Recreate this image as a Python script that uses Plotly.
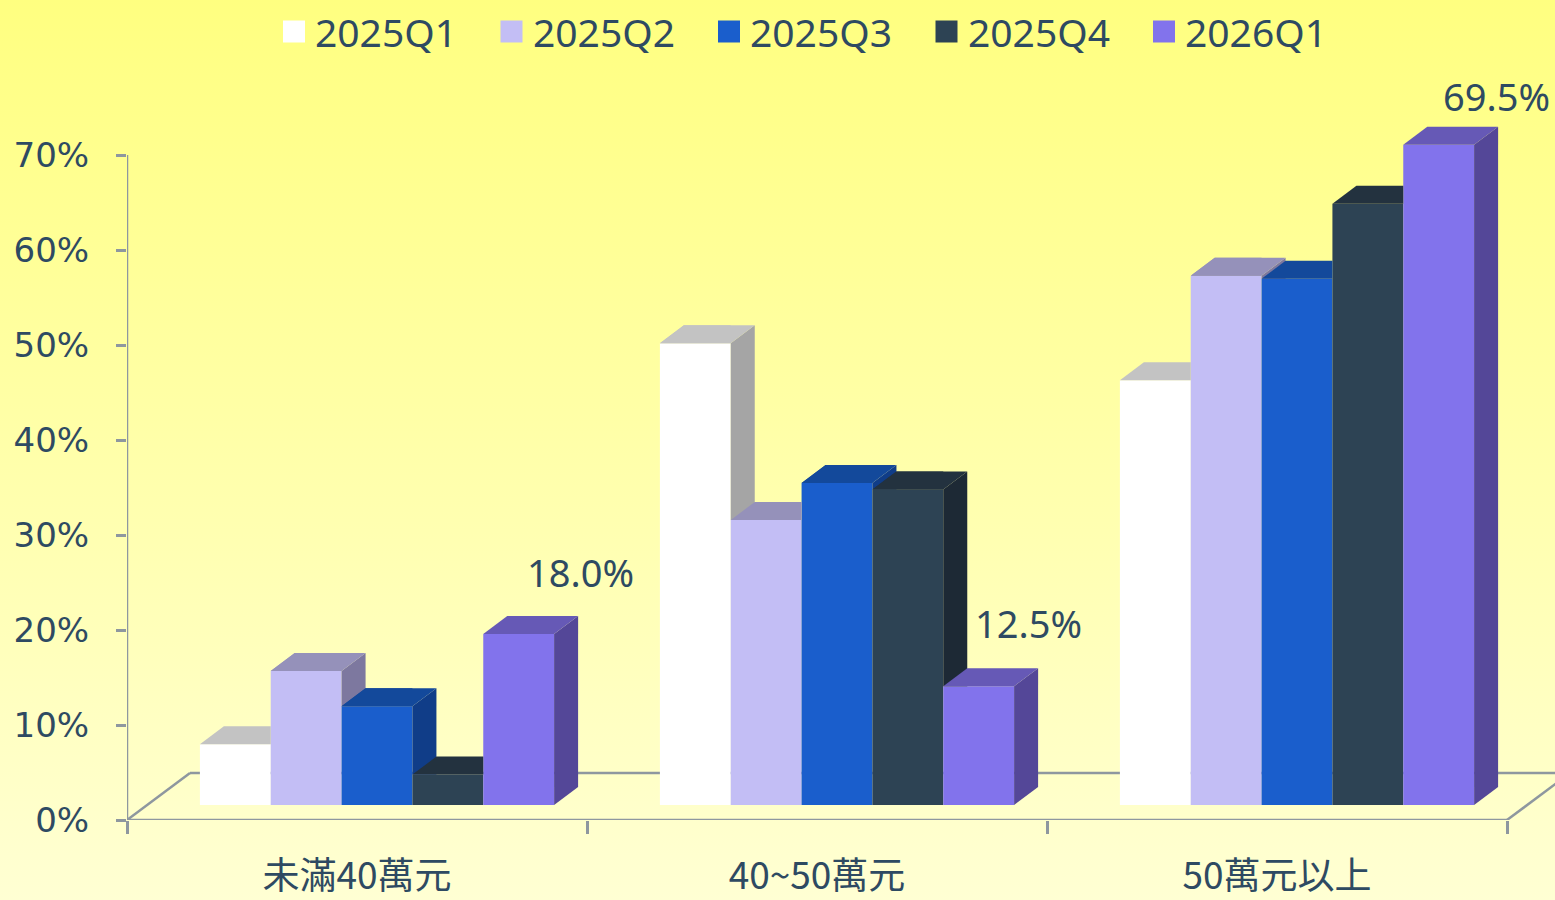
import base64
import plotly.graph_objects as go

# ---- data -------------------------------------------------------------
categories = ["未滿40萬元", "40~50萬元", "50萬元以上"]
series_names = ["2025Q1", "2025Q2", "2025Q3", "2025Q4", "2026Q1"]
q1_2025 = [6.4, 48.6, 44.7]
q2_2025 = [14.1, 30.0, 55.7]
q3_2025 = [10.4, 33.9, 55.4]
q4_2025 = [3.2, 33.2, 63.3]
q1_2026 = [18.0, 12.5, 69.5]
y_tick_values = [0, 10, 20, 30, 40, 50, 60, 70]
y_tick_labels = ["0%", "10%", "20%", "30%", "40%", "50%", "60%", "70%"]

series_values = [q1_2025, q2_2025, q3_2025, q4_2025, q1_2026]
# series whose bars carry a value label
labelled_series = "2026Q1"

# ---- styling ----------------------------------------------------------
# (front, top, side) face colours for each series
face_colors = [
    ("#FFFFFF", "#C3C3C3", "#A5A5A5"),
    ("#C3BEF5", "#9591BA", "#7D789F"),
    ("#1A5ECC", "#13499B", "#103D88"),
    ("#2D4354", "#23323F", "#1D2935"),
    ("#8273EC", "#6659B6", "#544798"),
]
TEXT = "#2E4A62"
AXIS = "#8E979F"

W, H = 1555, 900
ML, MR, MT, MB = 127, 0, 60, 80
PX_PER_CAT = 460.0      # pixels per category slot
PX_PER_PCT = 9.5        # pixels per percentage point
plot_w, plot_h = W - ML - MR, H - MT - MB
x_max = plot_w / PX_PER_CAT
y_max = plot_h / PX_PER_PCT

# oblique projection offsets (pixels) converted to axis units
def dxu(px):
    return px / PX_PER_CAT

def dyu(px):
    return px / PX_PER_PCT

FRONT_DX, FRONT_DY = dxu(20), dyu(15)   # bars' front plane behind the axis plane
BAR_DX, BAR_DY = dxu(24), dyu(18)       # bar depth
FLOOR_DX, FLOOR_DY = dxu(63), dyu(47)   # floor depth

BAR_GAP = 0.23
n_series = len(series_names)
BAR_W = (1 - BAR_GAP) / n_series


def clip(poly, inside, cross):
    """Sutherland-Hodgman clip of a polygon against one half-plane."""
    out = []
    for i in range(len(poly)):
        cur, prev = poly[i], poly[i - 1]
        if inside(cur):
            if not inside(prev):
                out.append(cross(prev, cur))
            out.append(cur)
        elif inside(prev):
            out.append(cross(prev, cur))
    return out


def y_at_least(c):
    def inside(p):
        return p[1] >= c

    def cross(a, b):
        t = (c - a[1]) / (b[1] - a[1])
        return (a[0] + t * (b[0] - a[0]), c)
    return inside, cross


def x_at_most(c):
    def inside(p):
        return p[0] <= c

    def cross(a, b):
        t = (c - a[0]) / (b[0] - a[0])
        return (c, a[1] + t * (b[1] - a[1]))
    return inside, cross


def poly_trace(poly, color):
    xs = [p[0] for p in poly] + [poly[0][0]]
    ys = [p[1] for p in poly] + [poly[0][1]]
    return go.Scatter(x=xs, y=ys, mode="lines", fill="toself", fillcolor=color,
                      line=dict(width=0, color=color), hoverinfo="skip",
                      showlegend=False, xaxis="x2", yaxis="y2")


fig = go.Figure()
centers = [i + 0.5 for i in range(len(categories))]

# front faces
for k, (name, vals) in enumerate(zip(series_names, series_values)):
    fig.add_trace(go.Bar(
        x=centers, y=vals, name=name, width=BAR_W,
        offset=-(1 - BAR_GAP) / 2 + k * BAR_W,
        marker=dict(color=face_colors[k][0], line=dict(width=0)),
        xaxis="x2", yaxis="y2", showlegend=False, hoverinfo="skip",
    ))

# top and side faces, painted left to right; parts hidden by the next bar are cut away
for k, vals in enumerate(series_values):
    for i, c in enumerate(centers):
        v = vals[i]
        left = c - (1 - BAR_GAP) / 2 + k * BAR_W
        right = left + BAR_W
        top = [(left, v), (right, v), (right + BAR_DX, v + BAR_DY), (left + BAR_DX, v + BAR_DY)]
        side = [(right, 0), (right + BAR_DX, BAR_DY), (right + BAR_DX, v + BAR_DY), (right, v)]
        if k + 1 < n_series:
            nxt = series_values[k + 1][i]
            side_pieces = [clip(side, *y_at_least(nxt))]
            top_pieces = [clip(top, *x_at_most(right)), clip(top, *y_at_least(nxt))]
        else:
            side_pieces, top_pieces = [side], [top]
        for p in side_pieces:
            if len(p) >= 3:
                fig.add_trace(poly_trace(p, face_colors[k][2]))
        for p in top_pieces:
            if len(p) >= 3:
                fig.add_trace(poly_trace(p, face_colors[k][1]))

# value labels
annotations = []
k_lab = series_names.index(labelled_series)
label_shift = [(62, 62), (50, 63), (58, 49)]
for i, c in enumerate(centers):
    v = series_values[k_lab][i]
    xc = c - (1 - BAR_GAP) / 2 + (k_lab + 0.5) * BAR_W
    annotations.append(dict(
        x=xc, y=v, xref="x2", yref="y2", text=f"{v:.1f}%", showarrow=False,
        xanchor="center", yanchor="middle",
        xshift=label_shift[i][0], yshift=label_shift[i][1],
        font=dict(family="Noto Sans", size=38, color=TEXT),
    ))

# legend drawn as swatches and text across the top
def paper_x(px):
    return (px - ML) / plot_w

def paper_y(py):
    return (H - MB - py) / plot_h

shapes = []
leg_x0, leg_step, leg_y = 283, 217.5, 31.5
for k, name in enumerate(series_names):
    sx = leg_x0 + k * leg_step
    shapes.append(dict(type="rect", xref="paper", yref="paper",
                       x0=paper_x(sx), x1=paper_x(sx + 22),
                       y0=paper_y(leg_y + 11), y1=paper_y(leg_y - 11),
                       fillcolor=face_colors[k][0], line=dict(width=0), layer="above"))
    annotations.append(dict(x=paper_x(sx + 30), y=paper_y(leg_y), xref="paper", yref="paper",
                            text=name, showarrow=False, xanchor="left", yanchor="middle",
                            font=dict(family="Noto Sans", size=39, color=TEXT)))

# floor outline and axis lines
line_style = dict(color=AXIS, width=2.5)
n_cat = len(categories)
floor_edges = [
    (0, 0, n_cat, 0),
    (FLOOR_DX, FLOOR_DY, n_cat + FLOOR_DX, FLOOR_DY),
    (0, 0, FLOOR_DX, FLOOR_DY),
    (n_cat, 0, n_cat + FLOOR_DX, FLOOR_DY),
]
for x0, y0, x1, y1 in floor_edges:
    shapes.append(dict(type="line", xref="x", yref="y", x0=x0, y0=y0, x1=x1, y1=y1,
                       line=line_style, layer="below"))
shapes.append(dict(type="line", xref="x", yref="y", x0=0, y0=0, x1=0, y1=y_tick_values[-1],
                   line=line_style, layer="below"))

# background gradient
svg = (
    f'<svg xmlns="http://www.w3.org/2000/svg" width="{W}" height="{H}" preserveAspectRatio="none">'
    '<defs><linearGradient id="g" x1="0" y1="0" x2="0" y2="1">'
    '<stop offset="0" stop-color="#FFFF80"/><stop offset="1" stop-color="#FFFFD3"/>'
    '</linearGradient></defs><rect width="100%" height="100%" fill="url(#g)"/></svg>'
)
bg_src = "data:image/svg+xml;base64," + base64.b64encode(svg.encode()).decode()

fig.update_layout(
    width=W, height=H,
    margin=dict(l=ML, r=MR, t=MT, b=MB, pad=0, autoexpand=False),
    paper_bgcolor="#FFFFD3", plot_bgcolor="rgba(0,0,0,0)",
    barmode="overlay", showlegend=False,
    images=[dict(source=bg_src, xref="paper", yref="paper",
                 x=paper_x(0), y=paper_y(0), sizex=W / plot_w, sizey=H / plot_h,
                 xanchor="left", yanchor="top", sizing="stretch", layer="below")],
    xaxis=dict(range=[0, x_max], tickvals=centers, ticktext=categories,
               ticks="", showline=False, showgrid=False, zeroline=False,
               automargin=False, ticklabelstandoff=31,
               tickfont=dict(family="Noto Sans CJK TC", size=37, color=TEXT),
               minor=dict(tickvals=list(range(n_cat + 1)), ticks="outside",
                          ticklen=13, tickwidth=2.5, tickcolor=AXIS, showgrid=False)),
    yaxis=dict(range=[0, y_max], tickvals=y_tick_values, ticktext=y_tick_labels,
               ticks="outside", ticklen=10, tickwidth=2.5, tickcolor=AXIS,
               showline=False, showgrid=False, zeroline=False,
               automargin=False, ticklabelstandoff=20,
               tickfont=dict(family="DejaVu Sans", size=34, color=TEXT)),
    xaxis2=dict(range=[-FRONT_DX, x_max - FRONT_DX], overlaying="x", visible=False),
    yaxis2=dict(range=[-FRONT_DY, y_max - FRONT_DY], overlaying="y", visible=False),
    shapes=shapes,
    annotations=annotations,
)

fig.write_html("out.html")
